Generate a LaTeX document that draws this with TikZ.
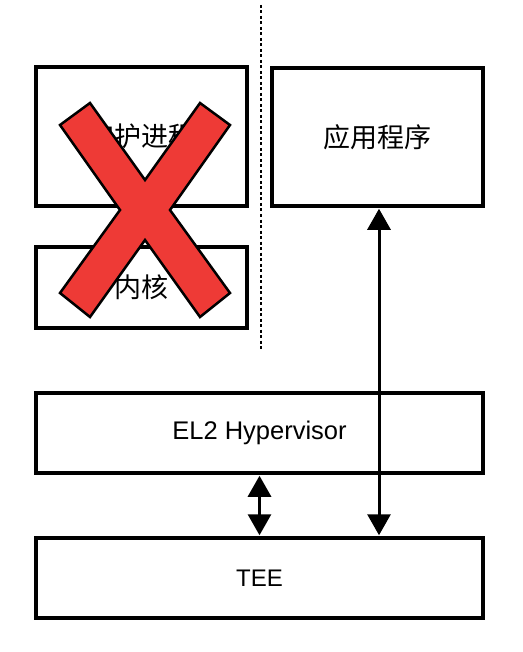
\documentclass[tikz,border=0pt]{standalone}
\usepackage{fontspec}
\setmainfont{Liberation Sans}
\newfontfamily\cjk{Noto Sans CJK SC}
\usetikzlibrary{arrows.meta}
\definecolor{crossred}{HTML}{EE3A36}
\tikzset{
  box/.style={draw=black, line width=3.5pt, fill=white, rectangle, inner sep=0pt},
  cjktext/.style={font=\cjk\fontsize{27}{32}\selectfont},
  lattext/.style={font=\fontsize{24}{28}\selectfont},
  widetext/.style={font=\fontsize{25.5}{30}\selectfont},
  dbl/.style={line width=3pt, {Triangle[length=21pt,width=23pt]}-{Triangle[length=21pt,width=23pt]}, shorten <=1pt, shorten >=1pt},
  sep/.style={line width=1.5pt, dash pattern=on 3pt off 2.5pt},
  cross/.style={fill=crossred, draw=black, line width=2.5pt, line join=miter}
}
\begin{document}
\begin{tikzpicture}[x=1pt,y=-1pt]
\useasboundingbox[fill=white] (0,0) rectangle (522,652);
% divider
\draw[sep] (261,5) -- (261,350);
% boxes
\node[box, cjktext, minimum width=211pt, minimum height=139pt] (daemon) at (141.5,136.5) {守护进程};
\node[box, cjktext, minimum width=211pt, minimum height=81pt] (kernel) at (141.5,287.5) {内核};
\node[box, cjktext, minimum width=211pt, minimum height=138pt] (app) at (377.5,137) {应用程序};
\node[box, widetext, minimum width=447pt, minimum height=80pt] (hyp) at (259.5,433) {EL2 Hypervisor};
\node[box, lattext, minimum width=447pt, minimum height=80pt] (tee) at (259.5,578) {TEE};
% connectors
\draw[dbl] ([xshift=1.5pt]app.south) -- ([xshift=1.5pt]app.south |- tee.north);
\draw[dbl] (hyp.south) -- (tee.north);
% red cross
\draw[cross] (60,125) -- (90,103) -- (145,180) -- (200,103) -- (230,125) -- (170,210)
  -- (230,293) -- (200,317) -- (145,240) -- (90,317) -- (60,293) -- (120,210) -- cycle;
\end{tikzpicture}
\end{document}
